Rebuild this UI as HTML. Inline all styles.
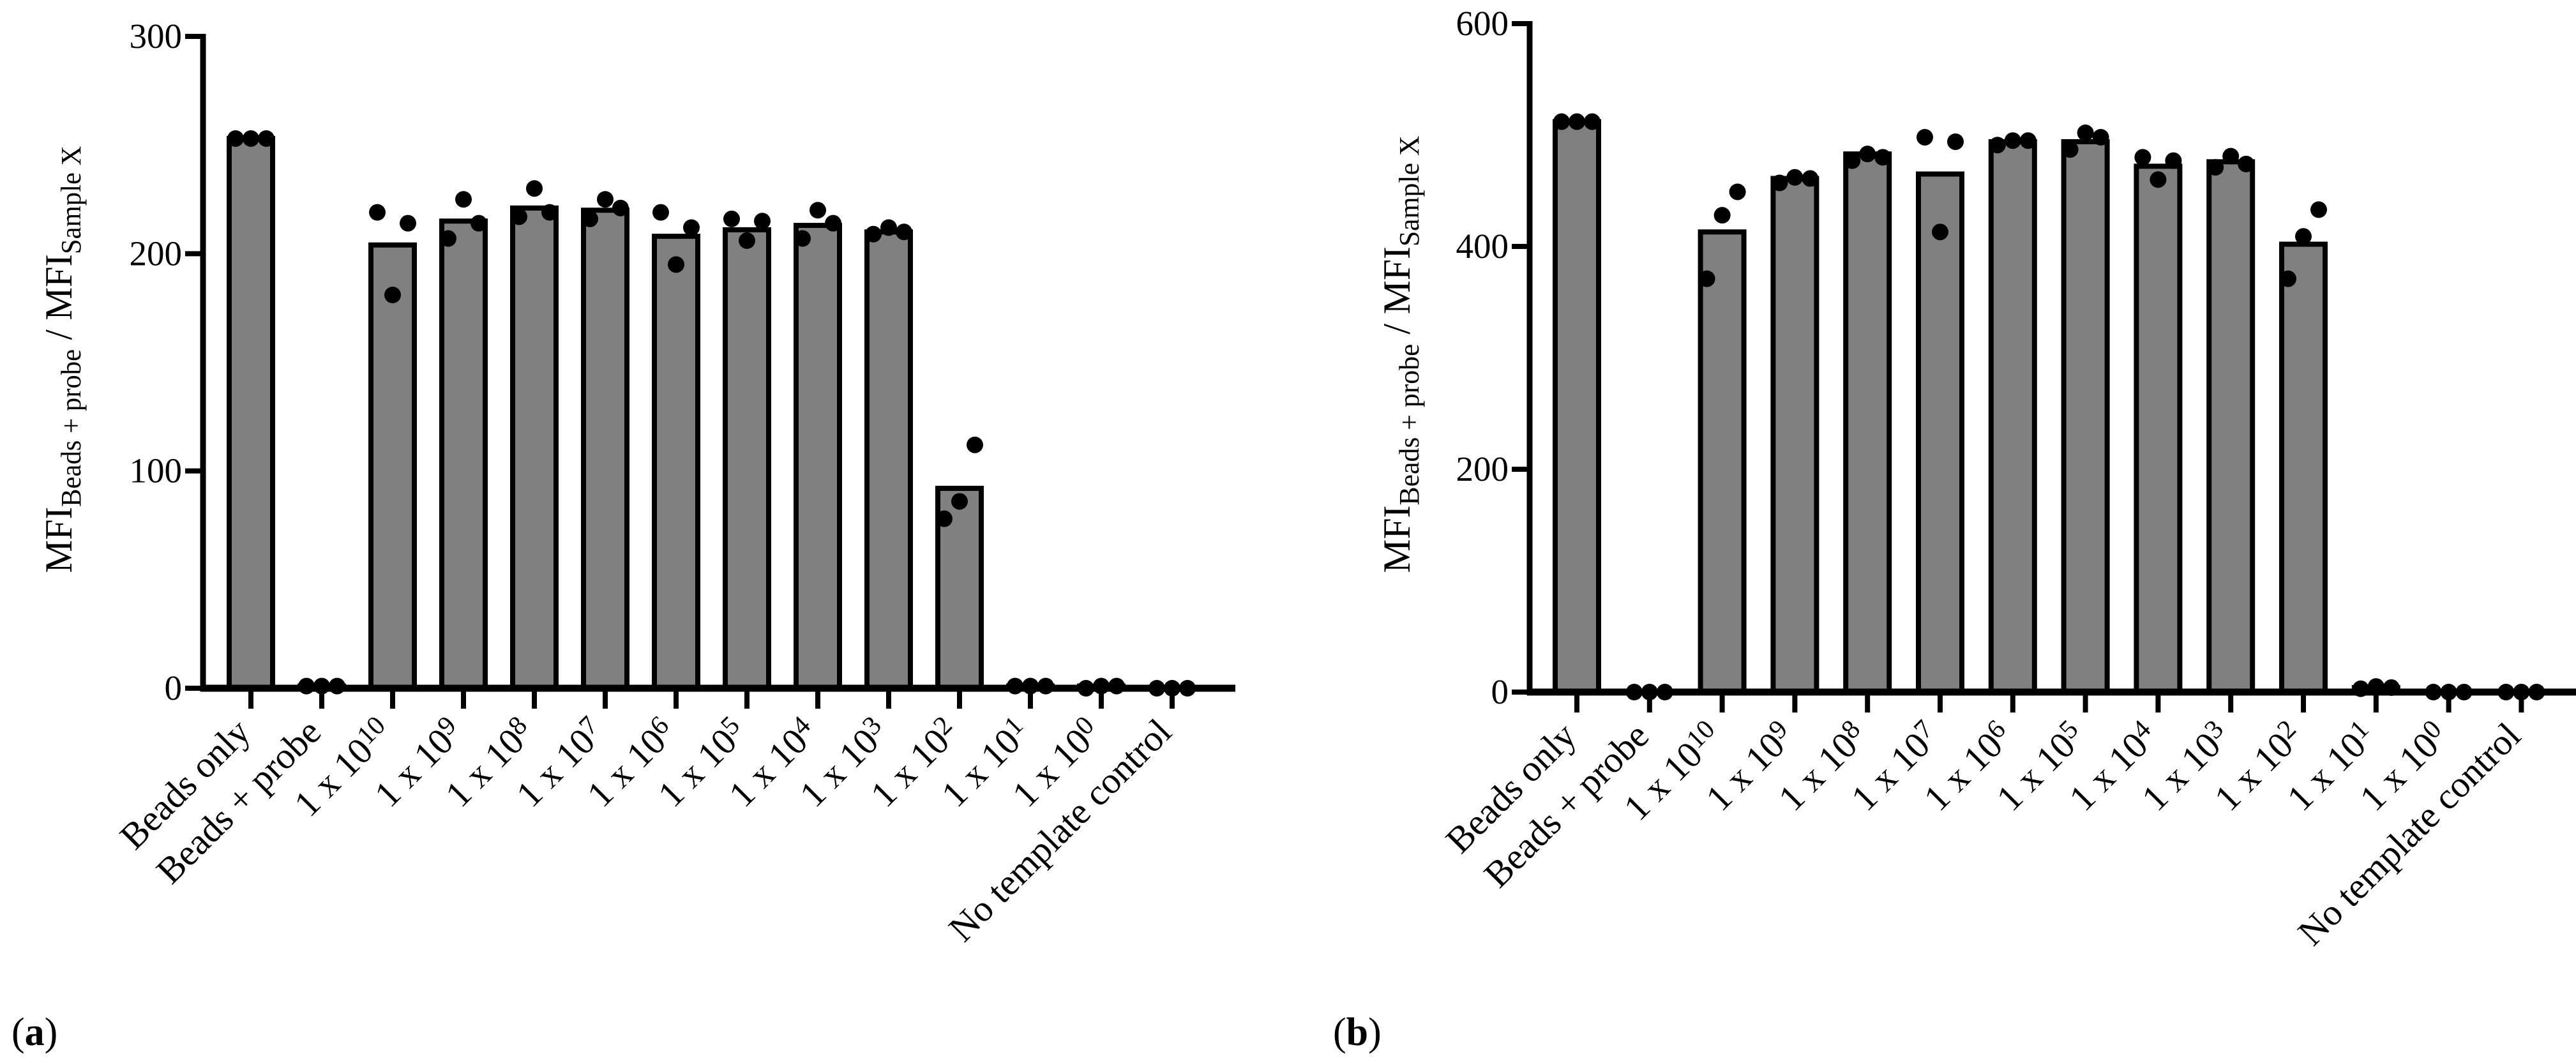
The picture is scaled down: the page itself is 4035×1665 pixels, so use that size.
<!DOCTYPE html>
<html><head><meta charset="utf-8"><style>
html,body{margin:0;padding:0;background:#fff;}
svg{display:block;font-family:"Liberation Serif",serif;}
</style></head><body>
<svg id="c" width="4035" height="1665" viewBox="0 0 4035 1665">
<text x="18" y="1637" font-size="62">(<tspan font-weight="bold">a</tspan>)</text>
<text x="2088" y="1637" font-size="62">(<tspan font-weight="bold">b</tspan>)</text>
</svg>
<script>
const categories = ["Beads only","Beads + probe","1 x 10|10","1 x 10|9","1 x 10|8","1 x 10|7","1 x 10|6","1 x 10|5","1 x 10|4","1 x 10|3","1 x 10|2","1 x 10|1","1 x 10|0","No template control"];
const barsA = [253,1,204,215,221,220,208,211,213,210,92,1,1,0];
const pointsA = [[253,253,253],[1,1,1],[219,181,214],[207,225,214],[217,230,219],[216,225,221],[219,195,212],[216,206,215],[207,220,214],[209,212,210],[78,86,112],[1,1,1],[0,1,1],[0,0,0]];
const ticksA = [0,100,200,300];
const barsB = [512,0,413,461,483,465,494,494,472,476,402,4,0,0];
const pointsB = [[512,512,512],[0,0,0],[371,428,449],[457,462,461],[477,483,480],[498,413,494],[491,495,495],[487,502,498],[480,460,477],[471,481,474],[371,409,433],[3,5,4],[0,0,0],[0,0,0]];
const ticksB = [0,200,400,600];

const NS = "http://www.w3.org/2000/svg";
const svg = document.getElementById('c');
function mk(tag, attrs, parent){const e=document.createElementNS(NS,tag);for(const k in attrs)e.setAttribute(k,attrs[k]);(parent||svg).appendChild(e);return e;}

function panel(p, bars, pts, ticks){
  const g = mk('g',{});
  
  
  const ymax = ticks[ticks.length-1];
  const y = v => p.y0 - (v/ymax)*(p.y0-p.yTop);
  const x = i => p.x0 + i*p.step;
  bars.forEach((v,i)=>{
    const r = mk('rect',{x:x(i)-p.bw/2,y:y(v),width:p.bw,height:Math.max(0,p.y0-y(v)),fill:'#808080',stroke:'#000','stroke-width':8},g);
    
    
  });
  const ya = mk('line',{x1:p.ax,y1:p.yTop-4,x2:p.ax,y2:p.y0+5,stroke:'#000','stroke-width':9},g);
  
  
  const xa = mk('line',{x1:p.ax-4,y1:p.y0,x2:p.xEnd,y2:p.y0,stroke:'#000','stroke-width':11},g);
  
  
  ticks.forEach(t=>{
    const l = mk('line',{x1:p.ax-28,y1:y(t),x2:p.ax,y2:y(t),stroke:'#000','stroke-width':8},g);
    
    
    const tx = mk('text',{x:p.lx,y:y(t)+18,'text-anchor':'end','font-size':55},g);
    tx.textContent = t;
    
    
  });
  categories.forEach((c,i)=>{
    const l = mk('line',{x1:x(i),y1:p.y0,x2:x(i),y2:p.y0+32,stroke:'#000','stroke-width':8},g);
    
    
    const ax = x(i)+2, ay = p.y0+72;
    const t = mk('text',{x:ax,y:ay,'text-anchor':'end','font-size':58,transform:'rotate(-45 '+ax+' '+ay+')'},g);
    
    
    const parts = c.split('|');
    t.appendChild(document.createTextNode(parts[0]));
    if(parts[1]!==undefined){
      const s = mk('tspan',{'baseline-shift':'16','font-size':42},t);
      s.textContent = parts[1];
    }
  });
  pts.forEach((arr,i)=>{
    arr.forEach((v,j)=>{
      const d = mk('circle',{cx:x(i)+(j-1)*24,cy:y(v),r:13,fill:'#000'},g);
      
      
    });
  });
  const tt = mk('text',{x:p.tx,y:p.ty,'text-anchor':'middle','font-size':60,transform:'rotate(-90 '+p.tx+' '+p.ty+')',textLength:p.tl,lengthAdjust:'spacingAndGlyphs'},g);
  
  
  tt.innerHTML = 'MFI<tspan font-size="44" dy="14">Beads + probe</tspan><tspan dy="-14"> / MFI</tspan><tspan font-size="44" dy="14">Sample X</tspan>';
}
panel({name:'chart-a',x0:393,step:111,bw:68,ax:318,y0:1078,yTop:57,xEnd:1935,lx:285,tx:112,ty:563,tl:669},barsA,pointsA,ticksA);
panel({name:'chart-b',x0:2470,step:113.8,bw:68,ax:2396,y0:1084,yTop:37,xEnd:4035,lx:2363,tx:2208,ty:555,tl:685},barsB,pointsB,ticksB);
</script>
</body></html>
